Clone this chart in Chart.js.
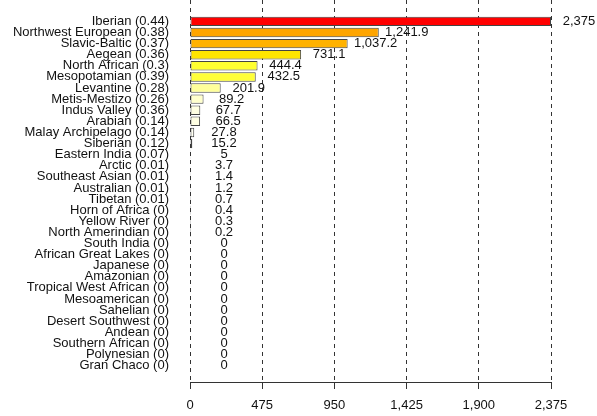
<!DOCTYPE html>
<html>
<head>
<meta charset="utf-8">
<script src="https://cdn.jsdelivr.net/npm/chart.js@4"></script>
<style>
  html, body { margin: 0; padding: 0; background: #fff; }
  #wrap { width: 597px; height: 416px; }
</style>
</head>
<body>
<div id="wrap"><canvas id="chart" width="597" height="416"></canvas></div>
<script>
const categories = [
  'Iberian (0.44)', 'Northwest European (0.38)', 'Slavic-Baltic (0.37)', 'Aegean (0.36)',
  'North African (0.3)', 'Mesopotamian (0.39)', 'Levantine (0.28)', 'Metis-Mestizo (0.26)',
  'Indus Valley (0.36)', 'Arabian (0.14)', 'Malay Archipelago (0.14)', 'Siberian (0.12)',
  'Eastern India (0.07)', 'Arctic (0.01)', 'Southeast Asian (0.01)', 'Australian (0.01)',
  'Tibetan (0.01)', 'Horn of Africa (0)', 'Yellow River (0)', 'North Amerindian (0)',
  'South India (0)', 'African Great Lakes (0)', 'Japanese (0)', 'Amazonian (0)',
  'Tropical West African (0)', 'Mesoamerican (0)', 'Sahelian (0)', 'Desert Southwest (0)',
  'Andean (0)', 'Southern African (0)', 'Polynesian (0)', 'Gran Chaco (0)'
];
const values = [
  2375, 1241.9, 1037.2, 731.1, 444.4, 432.5, 201.9, 89.2, 67.7, 66.5, 27.8, 15.2,
  5, 3.7, 1.4, 1.2, 0.7, 0.4, 0.3, 0.2, 0, 0, 0, 0, 0, 0, 0, 0, 0, 0, 0, 0
];
const xTicks = [0, 475, 950, 1425, 1900, 2375];

const barColors = [
  '#ff0000', '#ffa500', '#ffb200', '#ffe500', '#ffff30', '#ffff38', '#ffff9a', '#ffffcc',
  '#ffffe2', '#ffffe3', '#fffff2'
];

const fontFamily = '"Liberation Sans", Arial, sans-serif';

const valueLabels = {
  id: 'valueLabels',
  afterDatasetsDraw(chart) {
    const ctx = chart.ctx;
    const meta = chart.getDatasetMeta(0);
    ctx.save();
    ctx.font = '13px ' + fontFamily;
    ctx.fillStyle = '#111';
    ctx.textAlign = 'center';
    ctx.textBaseline = 'middle';
    meta.data.forEach((bar, i) => {
      const x = Math.max(bar.x + 28, chart.chartArea.left + 34);
      ctx.fillText(values[i].toLocaleString('en-US'), x, bar.y);
    });
    ctx.restore();
  }
};

new Chart(document.getElementById('chart'), {
  type: 'bar',
  data: {
    datasets: [{
      data: values.map((v, i) => ({ x: v, y: i })),
      backgroundColor: values.map((v, i) => barColors[i] || '#ffffff'),
      borderColor: '#444',
      borderWidth: 1,
      borderSkipped: false,
      barPercentage: 0.85,
      categoryPercentage: 1
    }]
  },
  options: {
    indexAxis: 'y',
    responsive: false,
    animation: false,
    layout: { padding: { left: 0, right: 46, top: 0, bottom: 0 } },
    plugins: { legend: { display: false }, tooltip: { enabled: false } },
    scales: {
      x: {
        type: 'linear',
        position: 'bottom',
        min: 0,
        max: 2375,
        afterBuildTicks: s => { s.ticks = xTicks.map(v => ({ value: v })); },
        afterFit: s => { s.height = 34; },
        ticks: {
          callback: v => v.toLocaleString('en-US'),
          color: '#111',
          padding: 9,
          maxRotation: 0,
          font: { family: fontFamily, size: 13 }
        },
        grid: {
          color: '#333',
          tickColor: '#333',
          tickLength: 7,
          tickBorderDash: []
        },
        border: { display: true, color: '#333', width: 1, dash: [4, 4] }
      },
      y: {
        type: 'linear',
        reverse: true,
        min: -1.39,
        max: 31.94,
        afterBuildTicks: s => { s.ticks = categories.map((c, i) => ({ value: i })); },
        afterFit: s => { s.width = 190; s.paddingTop = 0; s.paddingBottom = 0; },
        ticks: {
          autoSkip: false,
          callback: v => categories[v],
          color: '#111',
          padding: 21,
          font: { family: fontFamily, size: 13 }
        },
        grid: { display: false, drawTicks: false },
        border: { display: false }
      }
    }
  },
  plugins: [valueLabels]
});
</script>
</body>
</html>
